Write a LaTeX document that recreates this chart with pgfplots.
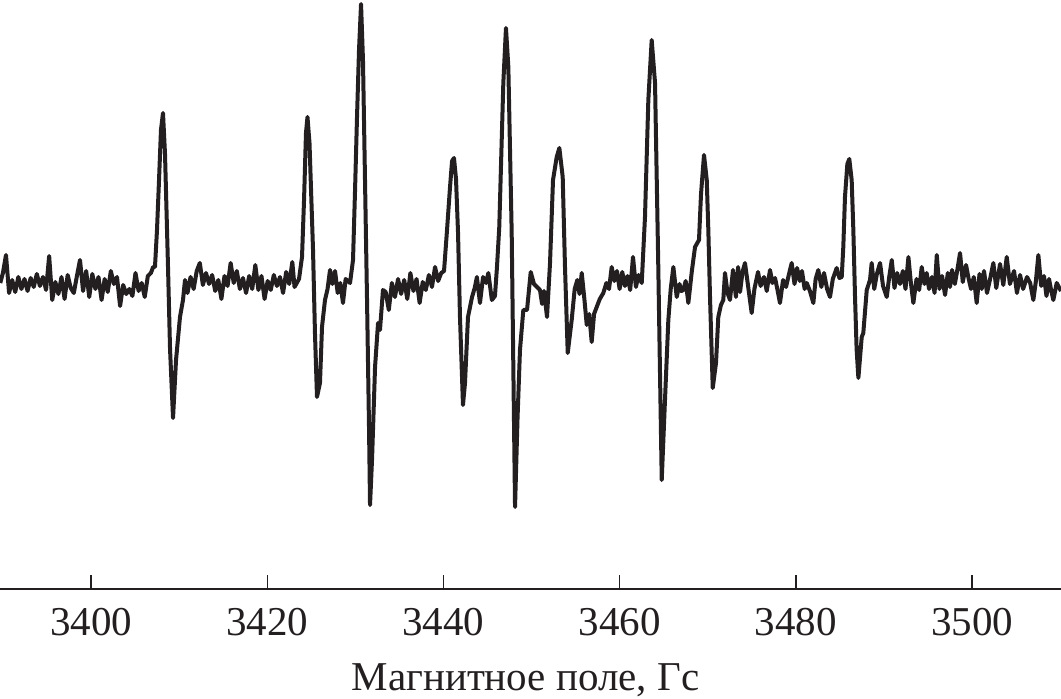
\documentclass[border=0pt]{standalone}
\usepackage{pgfplots}
\pgfplotsset{compat=1.18}
\usepackage{fontspec}
\setmainfont{Liberation Serif}
\definecolor{ink}{HTML}{231F20}
\begin{document}
\begin{tikzpicture}
\begin{axis}[
  scale only axis,
  width=530.5bp, height=294.5bp,
  xmin=3389.67, xmax=3510.1,
  ymin=0, ymax=589,
  axis x line*=bottom,
  axis y line=none,
  x axis line style={-, line width=1bp, color=ink},
  xtick={3400,3420,3440,3460,3480,3500},
  tick align=inside,
  major tick length=7bp,
  tick style={line width=0.7bp, color=ink},
  /pgf/number format/.cd, 1000 sep={}, assume math mode=true, /pgfplots/.cd,
  xticklabel style={font=\fontsize{20.5bp}{24bp}\selectfont, inner sep=0pt, yshift=-9.5bp, text=ink},
  xlabel={Магнитное поле, Гс},
  xlabel style={at={(axis description cs:0.5,0)}, anchor=base, yshift=-50.5bp, xshift=-2.5bp, inner sep=0pt, font=\fontsize{20.5bp}{24bp}\selectfont, text=ink},
  clip=false,
]
\addplot[color=ink, line width=2bp, line join=round, no markers] table {
x y
3389.70 306
3390.00 316
3390.35 334
3390.70 296
3391.05 309
3391.40 297
3391.75 312
3392.10 300
3392.45 310
3392.80 298
3393.15 311
3393.50 302
3393.85 315
3394.20 303
3394.55 312
3394.90 299
3395.25 333
3395.60 289
3395.95 307
3396.30 295
3396.65 312
3397.00 290
3397.35 314
3397.70 301
3398.05 296
3398.40 313
3398.75 329
3399.10 298
3399.45 318
3399.80 292
3400.15 315
3400.50 300
3400.85 312
3401.20 289
3401.55 310
3401.90 297
3402.25 318
3402.60 305
3402.95 312
3403.30 283
3403.65 304
3404.00 295
3404.35 300
3404.70 293
3405.05 316
3405.40 298
3405.75 306
3406.10 292
3406.45 313
3406.80 316
3407.05 322
3407.26 322
3407.49 359
3407.72 409
3407.94 459
3408.17 476
3408.40 435
3408.74 322
3408.97 240
3409.31 171
3409.65 229
3410.10 272
3410.44 289
3410.67 309
3410.95 296
3411.30 312
3411.65 300
3412.00 318
3412.35 326
3412.70 304
3413.05 316
3413.40 305
3413.75 314
3414.10 298
3414.45 309
3414.80 290
3415.15 313
3415.50 303
3415.85 326
3416.20 306
3416.55 318
3416.90 300
3417.25 311
3417.60 296
3417.95 313
3418.30 300
3418.65 324
3419.00 299
3419.35 313
3419.70 290
3420.05 308
3420.40 299
3420.75 314
3421.10 303
3421.45 312
3421.80 296
3422.15 317
3422.50 305
3422.85 327
3423.10 302
3423.61 310
3423.95 332
3424.18 389
3424.40 456
3424.57 472
3424.80 446
3425.20 339
3425.42 256
3425.65 192
3425.99 206
3426.22 262
3426.56 289
3426.85 300
3427.13 319
3427.40 305
3427.70 318
3428.00 296
3428.30 306
3428.60 286
3428.90 310
3429.40 306
3429.74 329
3429.97 399
3430.19 471
3430.42 539
3430.65 585
3430.87 529
3431.10 409
3431.33 289
3431.56 159
3431.67 84
3431.90 130
3432.24 222
3432.58 266
3432.80 259
3433.14 299
3433.45 297
3433.80 279
3434.15 306
3434.50 292
3434.85 310
3435.20 295
3435.55 309
3435.90 290
3436.25 316
3436.60 298
3436.95 310
3437.30 286
3437.65 307
3438.00 299
3438.35 314
3438.70 302
3439.05 322
3439.40 308
3439.75 316
3440.07 318
3440.41 359
3440.75 402
3440.98 428
3441.20 431
3441.43 410
3441.66 356
3441.88 272
3442.22 184
3442.45 206
3442.79 272
3443.25 292
3443.55 301
3443.80 312
3444.15 286
3444.50 312
3444.85 306
3445.10 316
3445.50 289
3445.85 293
3446.08 322
3446.34 362
3446.80 506
3447.10 561
3447.37 522
3447.75 356
3448.13 82
3448.41 170
3448.69 239
3449.07 279
3449.49 279
3449.91 317
3450.28 305
3450.62 302
3450.96 299
3451.20 285
3451.42 298
3451.76 272
3452.10 326
3452.44 409
3452.86 432
3453.16 441
3453.54 412
3453.80 322
3454.11 236
3454.56 269
3454.90 300
3455.20 309
3455.45 295
3455.70 316
3456.00 290
3456.27 264
3456.55 275
3456.83 247
3457.10 275
3457.40 282
3457.75 290
3458.15 296
3458.50 306
3458.80 300
3459.10 322
3459.40 308
3459.70 318
3460.00 300
3460.30 317
3460.60 303
3460.90 313
3461.20 299
3461.52 332
3461.85 302
3462.15 314
3462.51 306
3462.88 372
3463.26 489
3463.64 549
3464.02 506
3464.39 322
3464.78 109
3465.15 189
3465.53 269
3465.80 300
3466.10 322
3466.48 292
3466.80 305
3467.00 298
3467.23 299
3467.50 308
3467.80 286
3468.20 318
3468.56 342
3469.01 349
3469.24 395
3469.58 434
3469.89 409
3470.07 359
3470.26 292
3470.57 201
3470.94 226
3471.20 272
3471.50 284
3471.77 289
3471.96 316
3472.25 296
3472.53 289
3472.87 319
3473.20 292
3473.45 322
3473.67 297
3473.95 317
3474.23 326
3474.55 305
3474.99 276
3475.30 300
3475.71 317
3476.00 303
3476.39 312
3476.70 298
3477.07 319
3477.35 306
3477.64 311
3477.90 300
3478.20 286
3478.55 309
3478.89 302
3479.20 314
3479.53 326
3479.85 305
3480.14 321
3480.45 308
3480.70 318
3481.00 300
3481.24 306
3481.60 298
3481.99 286
3482.25 310
3482.55 319
3482.90 302
3483.20 316
3483.55 300
3483.88 292
3484.20 310
3484.64 321
3484.95 311
3485.21 312
3485.39 342
3485.58 392
3485.85 425
3486.07 430
3486.34 409
3486.53 359
3486.72 292
3486.90 240
3487.10 211
3487.48 252
3487.66 256
3488.05 299
3488.42 309
3488.61 326
3488.90 300
3489.20 315
3489.56 326
3489.90 303
3490.32 292
3490.60 312
3490.89 329
3491.20 301
3491.50 316
3491.83 305
3492.15 318
3492.45 300
3492.78 332
3493.05 307
3493.34 286
3493.70 310
3494.00 299
3494.29 322
3494.60 305
3494.85 316
3495.12 300
3495.45 312
3495.75 296
3496.00 334
3496.30 300
3496.60 313
3496.94 294
3497.25 316
3497.50 302
3497.73 319
3498.05 305
3498.35 320
3498.64 336
3498.95 307
3499.32 324
3499.60 311
3499.89 300
3500.20 312
3500.53 286
3500.85 315
3501.10 300
3501.36 318
3501.70 296
3502.05 310
3502.42 326
3502.75 301
3503.18 325
3503.55 304
3503.94 332
3504.30 305
3504.77 318
3505.10 296
3505.45 314
3505.80 300
3506.24 312
3506.60 306
3506.96 289
3507.25 308
3507.53 334
3507.85 303
3508.17 313
3508.45 293
3508.74 310
3509.00 298
3509.23 289
3509.61 306
3510.10 298
};
\end{axis}
\pgfresetboundingbox
\path (current axis.south west) ++(0,-55bp) rectangle (current axis.north east);
\end{tikzpicture}
\end{document}
